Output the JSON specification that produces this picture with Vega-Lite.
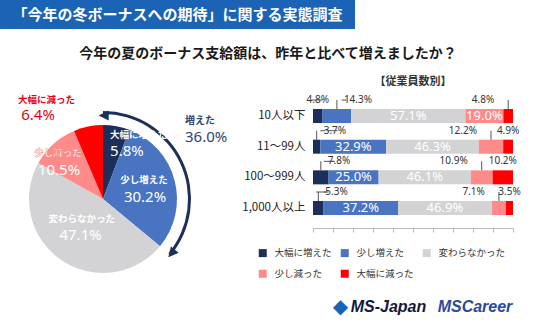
{
  "$schema": "https://vega.github.io/schema/vega-lite/v6.json",
  "padding": 0,
  "background": "white",
  "bounds": "flush",
  "align": "each",
  "spacing": 0,
  "config": {"font": "Noto Sans CJK JP", "view": {"stroke": null}},
  "resolve": {"scale": {"color": "independent"}, "legend": {"color": "independent"}},
  "datasets": {
    "bars": [
      {"group": "10人以下", "cat": "大幅に増えた", "k": 1, "v": 0.048},
      {"group": "10人以下", "cat": "少し増えた", "k": 2, "v": 0.143},
      {"group": "10人以下", "cat": "変わらなかった", "k": 3, "v": 0.571},
      {"group": "10人以下", "cat": "少し減った", "k": 4, "v": 0.190},
      {"group": "10人以下", "cat": "大幅に減った", "k": 5, "v": 0.048},
      {"group": "11～99人", "cat": "大幅に増えた", "k": 1, "v": 0.037},
      {"group": "11～99人", "cat": "少し増えた", "k": 2, "v": 0.329},
      {"group": "11～99人", "cat": "変わらなかった", "k": 3, "v": 0.463},
      {"group": "11～99人", "cat": "少し減った", "k": 4, "v": 0.122},
      {"group": "11～99人", "cat": "大幅に減った", "k": 5, "v": 0.049},
      {"group": "100～999人", "cat": "大幅に増えた", "k": 1, "v": 0.078},
      {"group": "100～999人", "cat": "少し増えた", "k": 2, "v": 0.250},
      {"group": "100～999人", "cat": "変わらなかった", "k": 3, "v": 0.461},
      {"group": "100～999人", "cat": "少し減った", "k": 4, "v": 0.109},
      {"group": "100～999人", "cat": "大幅に減った", "k": 5, "v": 0.102},
      {"group": "1,000人以上", "cat": "大幅に増えた", "k": 1, "v": 0.053},
      {"group": "1,000人以上", "cat": "少し増えた", "k": 2, "v": 0.372},
      {"group": "1,000人以上", "cat": "変わらなかった", "k": 3, "v": 0.469},
      {"group": "1,000人以上", "cat": "少し減った", "k": 4, "v": 0.071},
      {"group": "1,000人以上", "cat": "大幅に減った", "k": 5, "v": 0.035}
    ],
    "pie": [
      {"cat": "大幅に増えた", "k": 1, "v": 0.058},
      {"cat": "少し増えた", "k": 2, "v": 0.302},
      {"cat": "変わらなかった", "k": 3, "v": 0.471},
      {"cat": "少し減った", "k": 4, "v": 0.105},
      {"cat": "大幅に減った", "k": 5, "v": 0.064}
    ],
    "arrow": [
      {"g": "増えた", "k": 1, "v": 0.36},
      {"g": "その他", "k": 2, "v": 0.64}
    ]
  },
  "vconcat": [
    {
      "width": 355,
      "height": 29,
      "view": {"fill": "#1a63b5", "stroke": null},
      "data": {"values": [{"t": "「今年の冬ボーナスへの期待」に関する実態調査"}]},
      "mark": {"type": "text", "color": "white", "fontSize": 15, "fontWeight": "bold"},
      "encoding": {"text": {"field": "t"}}
    },
    {
      "width": 536,
      "height": 50,
      "data": {"values": [{"t": "今年の夏のボーナス支給額は、昨年と比べて増えましたか？"}]},
      "mark": {"type": "text", "color": "#1a1a1a", "fontSize": 14, "fontWeight": "bold"},
      "encoding": {"text": {"field": "t"}}
    },
    {
      "hconcat": [
        {
          "width": 206,
          "height": 240,
          "data": {"name": "pie"},
          "layer": [
            {
              "mark": {"type": "arc", "outerRadius": 74},
              "encoding": {
                "theta": {"field": "v", "type": "quantitative", "stack": "zero"},
                "order": {"field": "k", "type": "quantitative"},
                "color": {"field": "cat", "type": "nominal", "legend": null,
                  "scale": {"domain": ["大幅に増えた", "少し増えた", "変わらなかった", "少し減った", "大幅に減った"],
                            "range": ["#1c2f5a", "#4874c2", "#d3d3d6", "#ff8a8a", "#ff0000"]}}
              }
            },
            {
              "data": {"name": "arrow"},
              "mark": {"type": "arc", "outerRadius": 88, "innerRadius": 85},
              "encoding": {
                "theta": {"field": "v", "type": "quantitative", "stack": "zero"},
                "order": {"field": "k", "type": "quantitative"},
                "detail": {"field": "g"},
                "color": {"condition": {"test": "datum.g === '増えた'", "value": "#1c2f5a"}, "value": "transparent"}
              }
            },
            {
              "data": {"name": "arrow"},
              "mark": {"type": "text", "radius": 86.5, "angle": 270, "fontSize": 13, "font": "DejaVu Sans", "color": "#1c2f5a", "dx": -3},
              "encoding": {
                "theta": {"field": "v", "type": "quantitative", "stack": "zero", "bandPosition": 0},
                "order": {"field": "k", "type": "quantitative"},
                "detail": {"field": "g"},
                "text": {"condition": {"test": "datum.g === '増えた'", "value": "▲"}, "value": ""}
              }
            },
            {
              "data": {"name": "arrow"},
              "mark": {"type": "text", "radius": 86.5, "angle": 219.6, "fontSize": 13, "font": "DejaVu Sans", "color": "#1c2f5a", "dx": -1, "dy": 1},
              "encoding": {
                "theta": {"field": "v", "type": "quantitative", "stack": "zero", "bandPosition": 1},
                "order": {"field": "k", "type": "quantitative"},
                "detail": {"field": "g"},
                "text": {"condition": {"test": "datum.g === '増えた'", "value": "▲"}, "value": ""}
              }
            },
            {
              "data": {"name": "arrow"},
              "mark": {"type": "text", "radius": 100, "align": "left", "dx": -8.5, "dy": -35.9, "fontSize": 10, "fontWeight": "bold", "color": "#2d4472"},
              "encoding": {
                "theta": {"field": "v", "type": "quantitative", "stack": "zero"},
                "order": {"field": "k", "type": "quantitative"},
                "detail": {"field": "g"},
                "text": {"condition": {"test": "datum.g === '増えた'", "field": "g"}, "value": ""}
              }
            },
            {
              "data": {"name": "arrow"},
              "mark": {"type": "text", "radius": 100, "align": "left", "dx": -8.5, "dy": -19.4, "fontSize": 15, "font": "Noto Sans", "color": "#2d4472"},
              "encoding": {
                "theta": {"field": "v", "type": "quantitative", "stack": "zero"},
                "order": {"field": "k", "type": "quantitative"},
                "detail": {"field": "g"},
                "text": {"condition": {"test": "datum.g === '増えた'", "field": "v", "format": ".1%"}, "value": ""}
              }
            },
            {
              "mark": {"type": "text", "radius": 50, "align": "left", "dx": -2, "dy": -14.8, "fontSize": 9.5, "fontWeight": "bold", "color": "white"},
              "encoding": {
                "theta": {"field": "v", "type": "quantitative", "stack": "zero"},
                "order": {"field": "k", "type": "quantitative"},
                "detail": {"field": "cat"},
                "text": {"condition": {"test": "datum.cat === '大幅に増えた'", "field": "cat"}, "value": ""}
              }
            },
            {
              "mark": {"type": "text", "radius": 50, "align": "left", "dx": -2, "dy": 1.2, "fontSize": 15, "font": "Noto Sans", "color": "white"},
              "encoding": {
                "theta": {"field": "v", "type": "quantitative", "stack": "zero"},
                "order": {"field": "k", "type": "quantitative"},
                "detail": {"field": "cat"},
                "text": {"condition": {"test": "datum.cat === '大幅に増えた'", "field": "v", "format": ".1%"}, "value": ""}
              }
            },
            {
              "mark": {"type": "text", "radius": 42, "dx": 0.4, "dy": -8.3, "fontSize": 9.5, "fontWeight": "bold", "color": "white"},
              "encoding": {
                "theta": {"field": "v", "type": "quantitative", "stack": "zero"},
                "order": {"field": "k", "type": "quantitative"},
                "detail": {"field": "cat"},
                "text": {"condition": {"test": "datum.cat === '少し増えた'", "field": "cat"}, "value": ""}
              }
            },
            {
              "mark": {"type": "text", "radius": 42, "dx": 1.4, "dy": 8.7, "fontSize": 15, "font": "Noto Sans", "color": "white"},
              "encoding": {
                "theta": {"field": "v", "type": "quantitative", "stack": "zero"},
                "order": {"field": "k", "type": "quantitative"},
                "detail": {"field": "cat"},
                "text": {"condition": {"test": "datum.cat === '少し増えた'", "field": "v", "format": ".1%"}, "value": ""}
              }
            },
            {
              "mark": {"type": "text", "radius": 30, "dx": -4.3, "dy": -4.75, "fontSize": 9.5, "fontWeight": "bold", "color": "white"},
              "encoding": {
                "theta": {"field": "v", "type": "quantitative", "stack": "zero"},
                "order": {"field": "k", "type": "quantitative"},
                "detail": {"field": "cat"},
                "text": {"condition": {"test": "datum.cat === '変わらなかった'", "field": "cat"}, "value": ""}
              }
            },
            {
              "mark": {"type": "text", "radius": 30, "dx": -5.5, "dy": 11.25, "fontSize": 15, "font": "Noto Sans", "color": "white"},
              "encoding": {
                "theta": {"field": "v", "type": "quantitative", "stack": "zero"},
                "order": {"field": "k", "type": "quantitative"},
                "detail": {"field": "cat"},
                "text": {"condition": {"test": "datum.cat === '変わらなかった'", "field": "v", "format": ".1%"}, "value": ""}
              }
            },
            {
              "mark": {"type": "text", "radius": 55, "dx": -8.2, "dy": -5.1, "fontSize": 9.5, "fontWeight": "bold", "color": "white", "stroke": "#f27a7a", "strokeWidth": 0.4},
              "encoding": {
                "theta": {"field": "v", "type": "quantitative", "stack": "zero"},
                "order": {"field": "k", "type": "quantitative"},
                "detail": {"field": "cat"},
                "text": {"condition": {"test": "datum.cat === '少し減った'", "field": "cat"}, "value": ""}
              }
            },
            {
              "mark": {"type": "text", "radius": 55, "dx": -7.2, "dy": 11.9, "fontSize": 15, "font": "Noto Sans", "color": "white"},
              "encoding": {
                "theta": {"field": "v", "type": "quantitative", "stack": "zero"},
                "order": {"field": "k", "type": "quantitative"},
                "detail": {"field": "cat"},
                "text": {"condition": {"test": "datum.cat === '少し減った'", "field": "v", "format": ".1%"}, "value": ""}
              }
            },
            {
              "mark": {"type": "text", "radius": 90, "align": "right", "dx": -10.1, "dy": -11.3, "fontSize": 9.5, "fontWeight": "bold", "color": "#e60012"},
              "encoding": {
                "theta": {"field": "v", "type": "quantitative", "stack": "zero"},
                "order": {"field": "k", "type": "quantitative"},
                "detail": {"field": "cat"},
                "text": {"condition": {"test": "datum.cat === '大幅に減った'", "field": "cat"}, "value": ""}
              }
            },
            {
              "mark": {"type": "text", "radius": 90, "align": "right", "dx": -30.1, "dy": 4.2, "fontSize": 15, "font": "Noto Sans", "color": "#e60012"},
              "encoding": {
                "theta": {"field": "v", "type": "quantitative", "stack": "zero"},
                "order": {"field": "k", "type": "quantitative"},
                "detail": {"field": "cat"},
                "text": {"condition": {"test": "datum.cat === '大幅に減った'", "field": "v", "format": ".1%"}, "value": ""}
              }
            }
          ]
        },
        {
          "vconcat": [
            {
              "width": 200,
              "height": 149,
              "title": {"text": "【従業員数別】", "fontSize": 11, "fontWeight": "bold", "color": "#333333", "offset": -8},
              "data": {"name": "bars"},
              "encoding": {
                "y": {"field": "group", "type": "nominal", "title": null,
                      "sort": ["10人以下", "11～99人", "100～999人", "1,000人以上"],
                      "scale": {"paddingInner": 0.543, "paddingOuter": 0.7015, "align": 0.698},
                      "axis": {"ticks": false, "domain": false, "labelPadding": 8, "labelFontSize": 11.5, "labelColor": "#222222"}},
                "order": {"field": "k", "type": "quantitative"},
                "detail": {"field": "cat"}
              },
              "layer": [
                {
                  "mark": {"type": "bar"},
                  "encoding": {
                    "x": {"field": "v", "type": "quantitative", "stack": "zero", "scale": {"domain": [0, 1]},
                          "axis": {"labels": false, "title": null, "grid": false, "tickCount": 10, "domainColor": "#bbbbbb", "tickColor": "#bbbbbb", "tickSize": 4}},
                    "color": {"field": "cat", "type": "nominal",
                      "scale": {"domain": ["大幅に増えた", "少し増えた", "変わらなかった", "少し減った", "大幅に減った"],
                                "range": ["#1c2f5a", "#4874c2", "#d3d3d6", "#ff8a8a", "#ff0000"]},
                      "legend": {"orient": "none", "legendX": -55, "legendY": 169, "direction": "horizontal", "columns": 3, "title": null,
                                 "symbolType": "square", "symbolSize": 64, "symbolStrokeWidth": 0, "labelFontSize": 9.5, "labelColor": "#333333",
                                 "columnPadding": 8, "rowPadding": 10, "labelOffset": 7}}
                  }
                },
                {
                  "mark": {"type": "text", "color": "white", "fontSize": 13, "font": "Noto Sans"},
                  "encoding": {
                    "x": {"field": "v", "type": "quantitative", "stack": "zero", "bandPosition": 0.5},
                    "text": {"condition": {"test": "datum.v >= 0.19", "field": "v", "format": ".1%"}, "value": ""}
                  }
                },
                {
                  "mark": {"type": "text", "color": "#333333", "fontSize": 10, "font": "Noto Sans", "dy": -16},
                  "encoding": {
                    "x": {"field": "v", "type": "quantitative", "stack": "zero", "bandPosition": 0.5},
                    "text": {"condition": {"test": "(datum.cat === '大幅に増えた' && datum.group === '10人以下') || (datum.cat === '大幅に減った' && datum.group !== '10人以下')", "field": "v", "format": ".1%"}, "value": ""}
                  }
                },
                {
                  "mark": {"type": "text", "color": "#333333", "fontSize": 10, "font": "Noto Sans", "dy": -16, "dx": 7, "align": "left"},
                  "encoding": {
                    "x": {"field": "v", "type": "quantitative", "stack": "zero", "bandPosition": 0.5},
                    "text": {"condition": {"test": "(datum.cat === '大幅に増えた' && datum.group !== '10人以下') || (datum.cat === '少し増えた' && datum.v < 0.19)", "field": "v", "format": ".1%"}, "value": ""}
                  }
                },
                {
                  "mark": {"type": "text", "color": "#333333", "fontSize": 10, "font": "Noto Sans", "dy": -16, "dx": -14, "align": "right"},
                  "encoding": {
                    "x": {"field": "v", "type": "quantitative", "stack": "zero", "bandPosition": 0.5},
                    "text": {"condition": {"test": "(datum.cat === '少し減った' && datum.v < 0.19) || (datum.cat === '大幅に減った' && datum.group === '10人以下')", "field": "v", "format": ".1%"}, "value": ""}
                  }
                },
                {
                  "mark": {"type": "tick", "orient": "vertical", "size": 9, "thickness": 1, "yOffset": -11.5, "color": "#555555"},
                  "encoding": {
                    "x": {"field": "v", "type": "quantitative", "stack": "zero", "bandPosition": 0.5},
                    "opacity": {"condition": {"test": "(datum.cat === '大幅に増えた' && datum.group !== '10人以下') || (datum.cat === '少し増えた' && datum.v < 0.19) || (datum.cat === '少し減った' && datum.v < 0.19) || (datum.cat === '大幅に減った' && datum.group === '10人以下')", "value": 1}, "value": 0}
                  }
                },
                {
                  "mark": {"type": "tick", "orient": "horizontal", "size": 5, "thickness": 1, "yOffset": -16, "xOffset": 2.5, "color": "#555555"},
                  "encoding": {
                    "x": {"field": "v", "type": "quantitative", "stack": "zero", "bandPosition": 0.5},
                    "opacity": {"condition": {"test": "(datum.cat === '大幅に増えた' && datum.group !== '10人以下') || (datum.cat === '少し増えた' && datum.v < 0.19)", "value": 1}, "value": 0}
                  }
                },
                {
                  "mark": {"type": "tick", "orient": "horizontal", "size": 11, "thickness": 1, "yOffset": -16, "xOffset": -5.5, "color": "#555555"},
                  "encoding": {
                    "x": {"field": "v", "type": "quantitative", "stack": "zero", "bandPosition": 0.5},
                    "opacity": {"condition": {"test": "(datum.cat === '少し減った' && datum.v < 0.19) || (datum.cat === '大幅に減った' && datum.group === '10人以下')", "value": 1}, "value": 0}
                  }
                }
              ]
            },
            {
              "width": 200,
              "height": 20,
              "data": {"values": [{"n": "MS-Japan"}, {"n": "MSCareer"}]},
              "encoding": {
                "x": {"field": "n", "type": "nominal", "axis": null, "scale": {"type": "point", "padding": 0.656, "align": 0.665}}
              },
              "layer": [
                {
                  "transform": [{"filter": "datum.n === 'MS-Japan'"}],
                  "mark": {"type": "text", "fontSize": 16, "fontWeight": "bold", "fontStyle": "italic", "font": "Liberation Sans", "color": "#16163a"},
                  "encoding": {"text": {"field": "n"}}
                },
                {
                  "transform": [{"filter": "datum.n === 'MS-Japan'"}],
                  "mark": {"type": "text", "fontSize": 20, "font": "DejaVu Sans", "color": "#1a63b5", "dx": -48},
                  "encoding": {"text": {"value": "◆"}}
                },
                {
                  "transform": [{"filter": "datum.n === 'MSCareer'"}],
                  "mark": {"type": "text", "fontSize": 16, "fontWeight": "bold", "fontStyle": "italic", "font": "Liberation Sans", "color": "#2a4a9f"},
                  "encoding": {"text": {"field": "n"}}
                }
              ]
            }
          ],
          "spacing": 69,
          "bounds": "flush",
          "align": "each",
          "resolve": {"scale": {"color": "independent"}, "legend": {"color": "independent"}}
        }
      ],
      "spacing": 107,
      "bounds": "flush",
      "align": "each",
      "resolve": {"scale": {"color": "independent"}, "legend": {"color": "independent"}}
    }
  ]
}
